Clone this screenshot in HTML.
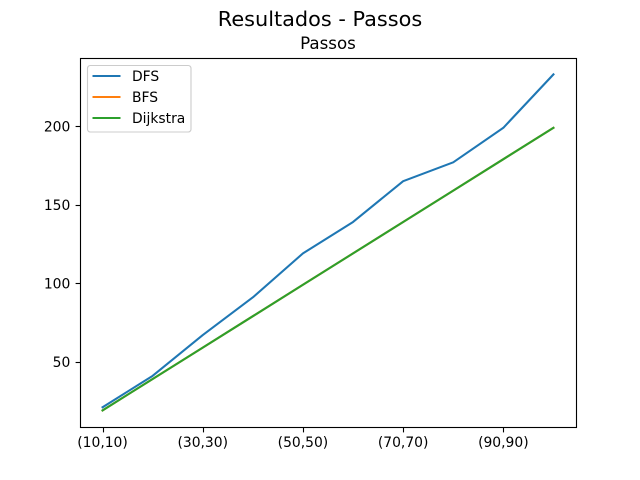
<!DOCTYPE html>
<html>
<head>
<meta charset="utf-8">
<style>
html,body{margin:0;padding:0;background:#fff;width:640px;height:480px;overflow:hidden}
svg{display:block}
text{font-family:"DejaVu Sans","Liberation Sans",sans-serif;fill:#000}
</style>
</head>
<body>
<svg id="chart" xmlns="http://www.w3.org/2000/svg" width="640" height="480" viewBox="0 0 640 480">
<rect x="0" y="0" width="640" height="480" fill="#ffffff"/>
<text x="320" y="26" font-size="20.83px" text-anchor="middle">Resultados - Passos</text>
<text x="328" y="49" font-size="16.67px" text-anchor="middle">Passos</text>
<g id="marks-layer"></g>
<g id="axes-layer"></g>
<g id="legend-layer"></g>
</svg>
<script>
const categories = ['(10,10)','(20,20)','(30,30)','(40,40)','(50,50)','(60,60)','(70,70)','(80,80)','(90,90)','(100,100)'];
const dfsValues = [21,41,67,91,119,139,165,177,199,233];
const bfsValues = [19,39,59,79,99,119,139,159,179,199];
const dijkstraValues = [19,39,59,79,99,119,139,159,179,199];
const yTickValues = [50,100,150,200];
const xTickIndexes = [0,2,4,6,8];
const seriesNames = ['DFS','BFS','Dijkstra'];

const NS = 'http://www.w3.org/2000/svg';
const plotLeft = 80, plotRight = 576, plotTop = 57.6, plotBottom = 427.2;
const allValues = dfsValues.concat(bfsValues, dijkstraValues);
const minV = Math.min.apply(null, allValues);
const maxV = Math.max.apply(null, allValues);
const yPad = (maxV - minV) * 0.05;
const xPad = (categories.length - 1) * 0.05;

function xScale(i) {
  return plotLeft + (i + xPad) / (categories.length - 1 + 2 * xPad) * (plotRight - plotLeft);
}
function yScale(v) {
  return plotBottom - (v - (minV - yPad)) / (maxV - minV + 2 * yPad) * (plotBottom - plotTop);
}
function make(tag, attrs, parent) {
  const el = document.createElementNS(NS, tag);
  Object.keys(attrs).forEach(function (k) { el.setAttribute(k, attrs[k]); });
  parent.appendChild(el);
  return el;
}

const marksLayer = document.getElementById('marks-layer');
const axesLayer = document.getElementById('axes-layer');
const legendLayer = document.getElementById('legend-layer');

function drawLine(values, color, name) {
  const pts = values.map(function (v, i) { return xScale(i).toFixed(2) + ',' + yScale(v).toFixed(2); }).join(' ');
  const line = make('polyline', {points: pts, fill: 'none', stroke: color, 'stroke-width': 2.08, 'stroke-linejoin': 'round', 'stroke-linecap': 'square'}, marksLayer);
  
  
}
drawLine(dfsValues, '#1f77b4', 'series-dfs');
drawLine(bfsValues, '#ff7f0e', 'series-bfs');
drawLine(dijkstraValues, '#2ca02c', 'series-dijkstra');

const axesFrame = make('rect', {x: 80.5, y: 58.5, width: 496, height: 369, fill: 'none', stroke: '#000', 'stroke-width': 1.11}, axesLayer);



xTickIndexes.forEach(function (idx) {
  const x = Math.round(xScale(idx)) + 0.5;
  const tick = make('line', {x1: x, x2: x, y1: 427.5, y2: 432.4, stroke: '#000', 'stroke-width': 1.11}, axesLayer);
  
  
  const label = make('text', {x: xScale(idx), y: plotBottom + 20, 'font-size': '13.89px', 'text-anchor': 'middle'}, axesLayer);
  label.textContent = categories[idx];
  
  
});

yTickValues.forEach(function (v) {
  const y = Math.round(yScale(v)) + 0.5;
  const tick = make('line', {x1: 75.6, x2: 80.5, y1: y, y2: y, stroke: '#000', 'stroke-width': 1.11}, axesLayer);
  
  
  const label = make('text', {x: plotLeft - 9.7, y: yScale(v) + 5.2, 'font-size': '13.89px', 'text-anchor': 'end'}, axesLayer);
  label.textContent = String(v);
  
  
});

const legendBox = make('rect', {x: 87.5, y: 65.5, width: 103.5, height: 66.5, rx: 2.8, ry: 2.8, fill: '#fff', 'fill-opacity': 0.8, stroke: '#cccccc', 'stroke-width': 1.11}, legendLayer);



const seriesColors = ['#1f77b4','#ff7f0e','#2ca02c'];
seriesNames.forEach(function (name, i) {
  const y = 76 + i * 21;
  const sample = make('line', {x1: 92.5, x2: 120.5, y1: y, y2: y, stroke: seriesColors[i], 'stroke-width': 2.08}, legendLayer);
  
  
  const text = make('text', {x: 132, y: y + 5, 'font-size': '13.89px'}, legendLayer);
  text.textContent = name;
  
  
});
</script>
</body>
</html>
